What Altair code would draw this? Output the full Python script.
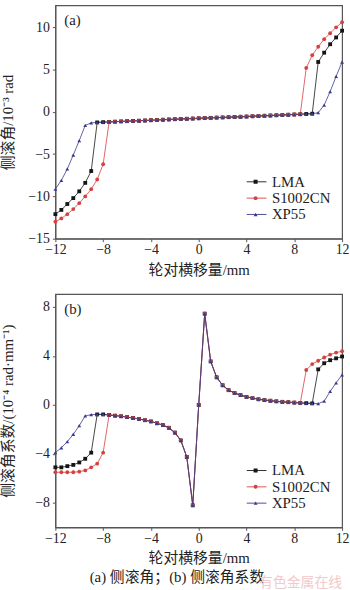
import altair as alt
import pandas as pd

# ---------------- data ----------------
X_MM = [-12.0, -11.5, -11.0, -10.5, -10.0, -9.5, -9.0, -8.5, -8.0, -7.5,
        -7.0, -6.5, -6.0, -5.5, -5.0, -4.5, -4.0, -3.5, -3.0, -2.5,
        -2.0, -1.5, -1.0, -0.5, 0.0, 0.5, 1.0, 1.5, 2.0, 2.5,
        3.0, 3.5, 4.0, 4.5, 5.0, 5.5, 6.0, 6.5, 7.0, 7.5,
        8.0, 8.5, 9.0, 9.5, 10.0, 10.5, 11.0, 11.5, 12.0]

SERIES = ["LMA", "S1002CN", "XP55"]

# (a) roll angle, 10^-3 rad
LMA_A = [-12.1, -11.6, -10.9, -10.2, -9.4, -8.4, -7.0, -1.25, -1.22, -1.19,
         -1.16, -1.13, -1.10, -1.07, -1.05, -1.02, -0.99, -0.96, -0.93, -0.90,
         -0.87, -0.84, -0.82, -0.79, -0.76, -0.73, -0.71, -0.68, -0.66, -0.63,
         -0.60, -0.58, -0.55, -0.52, -0.49, -0.46, -0.43, -0.40, -0.37, -0.34,
         -0.31, -0.28, -0.25, -0.22, 5.9, 7.0, 8.0, 8.8, 9.6]
S1002CN_A = [-13.0, -12.6, -12.1, -11.5, -10.8, -10.0, -9.15, -8.0, -6.2, -1.19,
             -1.16, -1.13, -1.10, -1.07, -1.05, -1.02, -0.99, -0.96, -0.93, -0.90,
             -0.87, -0.84, -0.82, -0.79, -0.76, -0.73, -0.71, -0.68, -0.66, -0.63,
             -0.60, -0.58, -0.55, -0.52, -0.49, -0.46, -0.43, -0.40, -0.37, -0.34,
             -0.31, -0.28, 5.2, 6.7, 7.7, 8.6, 9.3, 10.0, 10.6]
XP55_A = [-9.15, -8.1, -6.75, -5.1, -3.4, -1.6, -1.30, -1.25, -1.22, -1.19,
          -1.16, -1.13, -1.10, -1.07, -1.05, -1.02, -0.99, -0.96, -0.93, -0.90,
          -0.87, -0.84, -0.82, -0.79, -0.76, -0.73, -0.71, -0.68, -0.66, -0.63,
          -0.60, -0.58, -0.55, -0.52, -0.49, -0.46, -0.43, -0.40, -0.37, -0.34,
          -0.31, -0.28, -0.25, -0.22, -0.10, 0.8, 2.4, 4.2, 5.9]

# (b) roll angle coefficient, 10^-4 rad/mm
LMA_B = [-5.1, -5.1, -5.0, -4.9, -4.7, -4.4, -3.9, -0.78, -0.78, -0.82,
         -0.88, -0.93, -1.0, -1.07, -1.15, -1.25, -1.35, -1.5, -1.65, -1.87,
         -2.26, -2.9, -4.25, -8.2, 0.0, 7.45, 3.55, 2.25, 1.6, 1.2,
         0.97, 0.8, 0.65, 0.56, 0.46, 0.40, 0.34, 0.29, 0.25, 0.22,
         0.19, 0.16, 0.14, 0.12, 2.9, 3.4, 3.65, 3.8, 3.95]
S1002CN_B = [-5.5, -5.5, -5.5, -5.5, -5.45, -5.35, -5.1, -4.8, -3.9, -0.82,
             -0.88, -0.93, -1.0, -1.07, -1.15, -1.25, -1.35, -1.5, -1.65, -1.87,
             -2.26, -2.9, -4.25, -8.2, 0.0, 7.45, 3.55, 2.25, 1.6, 1.2,
             0.97, 0.8, 0.65, 0.56, 0.46, 0.40, 0.34, 0.29, 0.25, 0.22,
             0.19, 0.16, 2.85, 3.33, 3.6, 3.87, 4.1, 4.27, 4.38]
XP55_B = [-3.9, -3.5, -3.0, -2.4, -1.7, -0.9, -0.80, -0.78, -0.78, -0.82,
          -0.88, -0.93, -1.0, -1.07, -1.15, -1.25, -1.35, -1.5, -1.65, -1.87,
          -2.26, -2.9, -4.25, -8.2, 0.0, 7.45, 3.55, 2.25, 1.6, 1.2,
          0.97, 0.8, 0.65, 0.56, 0.46, 0.40, 0.34, 0.29, 0.25, 0.22,
          0.19, 0.16, 0.14, 0.12, 0.10, 0.3, 1.1, 1.8, 2.45]

X_TICKS = [-12, -8, -4, 0, 4, 8, 12]
YA_TICKS = [-15, -10, -5, 0, 5, 10]
YB_TICKS = [-8, -4, 0, 4, 8]

# ---------------- styling ----------------
COLORS = ["#151515", "#d8403f", "#3b3b8e"]
SHAPES = ["square", "circle", "triangle-up"]
FONT = "Liberation Serif, Noto Sans CJK SC"
CJK = "Noto Sans CJK SC"
MARK_KEYS = [s + " " for s in SERIES]   # separate key so the marker legend stays apart


def long_df(series_vals):
    rows = []
    for name, key, vals in zip(SERIES, MARK_KEYS, series_vals):
        for x, v in zip(X_MM, vals):
            rows.append({"x": x, "v": v, "series": name, "mk": key})
    return pd.DataFrame(rows)


def panel(df, ytitle, ydomain, yticks, ytitle_pad, tag, legend_y, extra=None):
    xenc = alt.X("x:Q",
                 scale=alt.Scale(domain=[-12, 12], nice=False, zero=False),
                 axis=alt.Axis(values=X_TICKS, title="轮对横移量/mm",
                               labelFlush=False, labelOverlap=False,
                               labelPadding=1, titlePadding=6))
    yenc = alt.Y("v:Q",
                 scale=alt.Scale(domain=ydomain, nice=False, zero=False),
                 axis=alt.Axis(values=yticks, title=ytitle,
                               labelOverlap=False, labelPadding=3,
                               titlePadding=ytitle_pad))
    lines = alt.Chart(df).mark_line(strokeWidth=0.8).encode(
        x=xenc, y=yenc,
        color=alt.Color("series:N",
                        scale=alt.Scale(domain=SERIES, range=COLORS),
                        legend=alt.Legend(orient="none", legendX=193,
                                          legendY=legend_y, title=None,
                                          symbolType="stroke", symbolSize=400,
                                          symbolStrokeWidth=0.9, clipHeight=15,
                                          labelFont=FONT, labelFontSize=15,
                                          labelColor="#222", labelOffset=5,
                                          rowPadding=0.5, padding=0, offset=0)),
    )
    leg_pts = alt.Legend(orient="none", legendX=195, legendY=legend_y,
                         title=None, symbolSize=16, symbolStrokeWidth=0,
                         clipHeight=15, labelExpr="' '",
                         labelFont=FONT, labelFontSize=15, labelOffset=5,
                         rowPadding=0.5, padding=0, offset=0)
    points = alt.Chart(df).mark_point(filled=True, opacity=1, size=15).encode(
        x="x:Q", y="v:Q",
        fill=alt.Fill("mk:N", scale=alt.Scale(domain=MARK_KEYS, range=COLORS),
                      legend=leg_pts),
        shape=alt.Shape("mk:N", scale=alt.Scale(domain=MARK_KEYS, range=SHAPES),
                        legend=leg_pts),
    )
    tag_df = pd.DataFrame({"t": [tag]})
    tag_txt = alt.Chart(tag_df).mark_text(
        align="left", baseline="middle", font=FONT, fontSize=15, color="#222"
    ).encode(x=alt.value(9), y=alt.value(15), text="t:N")
    layers = [lines, points, tag_txt]
    if extra:
        layers += extra
    return alt.layer(*layers).properties(width=290, height=236)


df_a = long_df([LMA_A, S1002CN_A, XP55_A])
df_b = long_df([LMA_B, S1002CN_B, XP55_B])

cap_df = pd.DataFrame({"t": ["(a) 侧滚角；(b) 侧滚角系数"]})
caption = alt.Chart(cap_df).mark_text(
    align="center", baseline="middle", font=FONT, fontSize=15, color="#222"
).encode(x=alt.value(123), y=alt.value(286), text="t:N")
wm_df = pd.DataFrame({"t": ["有色金属在线"]})
watermark = alt.Chart(wm_df).mark_text(
    align="center", baseline="middle", font=CJK, fontSize=14, color="#f3c9c9"
).encode(x=alt.value(248), y=alt.value(292), text="t:N")

pa = panel(df_a, "侧滚角/10⁻³ rad", [-15, 12.6], YA_TICKS, 12, "(a)", 171)
pb = panel(df_b, "侧滚角系数/(10⁻⁴ rad·mm⁻¹)", [-10, 9.05], YB_TICKS, 19, "(b)", 171,
           extra=[caption, watermark])

chart = alt.vconcat(pa, pb, spacing=15).resolve_scale(
    color="independent", fill="independent", shape="independent"
).resolve_legend(
    color="independent", fill="independent", shape="independent"
).properties(
    padding={"left": 0, "top": 1, "right": 0, "bottom": 0}
).configure_view(
    stroke="#555", strokeWidth=1.2
).configure_axis(
    domainColor="#555", domainWidth=1, tickColor="#555", tickSize=3,
    grid=False, labelFont=FONT, labelFontSize=14, labelColor="#222",
    titleFont=FONT, titleFontSize=15, titleFontWeight="normal", titleColor="#222"
)

chart.save("out.html", embed_options={"renderer": "svg", "actions": False})
